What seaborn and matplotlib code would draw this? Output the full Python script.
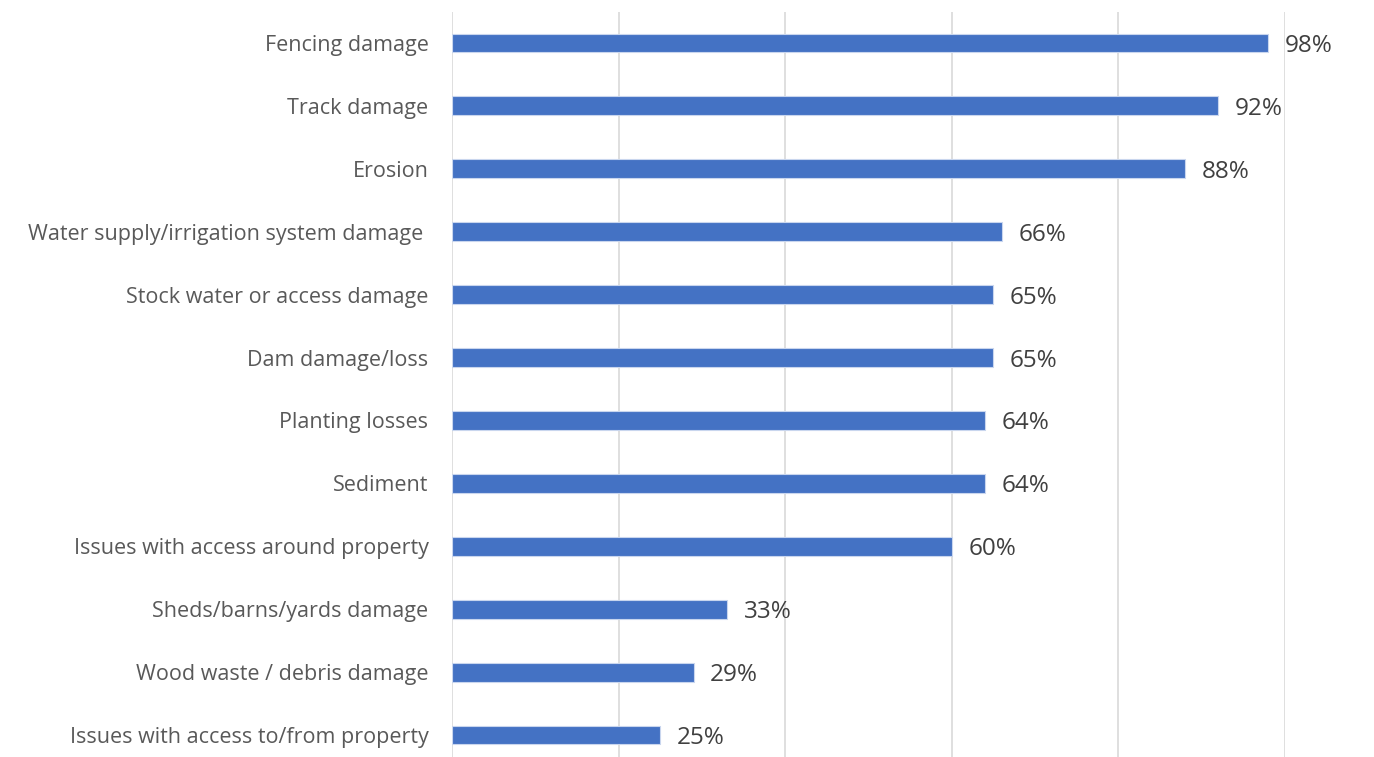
import matplotlib
matplotlib.use('Agg')
import matplotlib.pyplot as plt
import seaborn as sns
import pandas as pd

categories = ["Fencing damage", "Track damage", "Erosion",
              "Water supply/irrigation system damage ",
              "Stock water or access damage", "Dam damage/loss",
              "Planting losses", "Sediment",
              "Issues with access around property",
              "Sheds/barns/yards damage", "Wood waste / debris damage",
              "Issues with access to/from property"]
values = [98, 92, 88, 66, 65, 65, 64, 64, 60, 33, 29, 25]

df = pd.DataFrame({"Issue": categories, "Percent": values})

sns.set_style("white")
plt.rcParams['font.family'] = ['Open Sans', 'DejaVu Sans']

fig = plt.figure(figsize=(13.74, 7.57), dpi=100)
ax = fig.add_axes([452/1374, -9.5/757, 833/1374, 755/757])

sns.barplot(x="Percent", y="Issue", data=df, color="#4472C4", width=0.3,
            saturation=1, ax=ax, zorder=3, edgecolor="#C9D6EE", linewidth=0.8)

ax.set_xlim(0, 100)
ax.set_xticks([0, 20, 40, 60, 80, 100])
ax.set_xticklabels([])
ax.tick_params(axis='both', length=0)
ax.xaxis.grid(True, color="#D9D9D9", linewidth=1.2, zorder=0)
ax.set_axisbelow(True)
for s in ax.spines.values():
    s.set_visible(False)
ax.set_xlabel("")
ax.set_ylabel("")
ax.tick_params(axis='y', labelsize=15.5, labelcolor="#595959", pad=17)

for i, v in enumerate(values):
    ax.text(v + 2.0, i, f"{v}%", va='center_baseline', ha='left', fontsize=17.5, color="#404040")

fig.savefig("out.png", dpi=100)
